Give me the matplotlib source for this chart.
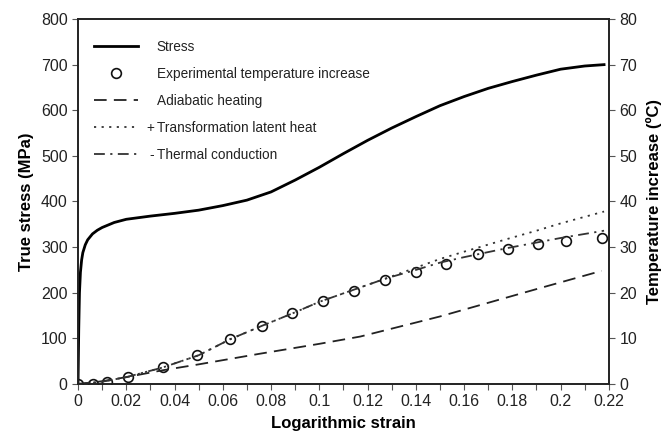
import matplotlib
matplotlib.use("Agg")
import matplotlib.pyplot as plt
from matplotlib.ticker import MultipleLocator, FuncFormatter
import numpy as np

plt.rcParams['font.family'] = ['Liberation Sans', 'DejaVu Sans']

# Stress curve (left axis, MPa)
stress_strain = [0, 0.0003, 0.0006, 0.001, 0.0015, 0.002, 0.003, 0.004, 0.006, 0.008, 0.01, 0.015, 0.02,
                 0.03, 0.04, 0.05, 0.06, 0.07, 0.08, 0.09, 0.1, 0.11, 0.12, 0.13, 0.14, 0.15,
                 0.16, 0.17, 0.18, 0.19, 0.2, 0.21, 0.218]
stress = [0, 120, 200, 245, 272, 288, 305, 316, 329, 337, 343, 354, 361,
          368, 374, 381, 391, 403, 421, 447, 475, 505, 534, 561, 586, 610,
          630, 648, 663, 677, 690, 697, 700]

# Experimental temperature increase (right axis, degC)
exp_strain = [0, 0.0063, 0.0119, 0.0206, 0.0351, 0.0492, 0.0631, 0.0761, 0.0888, 0.1016,
              0.1145, 0.1272, 0.140, 0.1526, 0.1656, 0.178, 0.1905, 0.2022, 0.217]
exp_temp = [0.1, 0.1, 0.5, 1.5, 3.7, 6.3, 9.9, 12.7, 15.5, 18.2,
            20.4, 22.8, 24.6, 26.2, 28.4, 29.6, 30.6, 31.4, 31.9]

# Adiabatic heating
adi_strain = [0, 0.01, 0.02, 0.035, 0.05, 0.075, 0.1, 0.117, 0.15, 0.19, 0.217]
adi_temp = [0, 0.6, 1.5, 3.0, 4.3, 6.6, 8.8, 10.4, 14.8, 20.8, 24.8]

# + Transformation latent heat
lat_strain = [0, 0.01, 0.02, 0.035, 0.05, 0.063, 0.076, 0.089, 0.1, 0.115, 0.128,
              0.14, 0.15, 0.16, 0.178, 0.19, 0.2, 0.218]
lat_temp = [0, 0.5, 1.5, 3.6, 6.3, 9.8, 12.7, 15.5, 18.0, 20.8, 23.2,
            25.5, 27.4, 29.0, 31.8, 33.6, 35.2, 37.8]

# - Thermal conduction
cond_strain = [0, 0.01, 0.02, 0.035, 0.05, 0.063, 0.076, 0.089, 0.1, 0.115, 0.128,
               0.14, 0.15, 0.16, 0.178, 0.19, 0.2, 0.218]
cond_temp = [0, 0.5, 1.5, 3.6, 6.3, 9.8, 12.7, 15.5, 18.0, 20.8, 23.2,
             25.0, 26.6, 27.8, 29.8, 31.0, 32.0, 33.6]

fig = plt.figure(figsize=(6.64, 4.36), dpi=100)
ax = fig.add_axes([0.1175, 0.1193, 0.7995, 0.8371])
ax2 = ax.twinx()

tick_col = '#222222'
l1, = ax.plot(stress_strain, stress, color='black', lw=2.0, label='Stress')
l2, = ax2.plot(exp_strain, exp_temp, linestyle='none', marker='o', markersize=7,
               markerfacecolor='none', markeredgecolor='#111111', markeredgewidth=1.2,
               label='Experimental temperature increase')
l3, = ax2.plot(adi_strain, adi_temp, color='#222222', lw=1.3, dashes=(7, 4), label='Adiabatic heating')
l4, = ax2.plot(lat_strain, lat_temp, color='#333333', lw=1.3, dashes=(1.2, 3), label='Transformation latent heat')
l5, = ax2.plot(cond_strain, cond_temp, color='#333333', lw=1.3, dashes=(6, 3, 1.2, 3), label='Thermal conduction')

ax.set_xlim(0, 0.22)
ax.set_ylim(0, 800)
ax2.set_ylim(0, 80)
ax.xaxis.set_major_locator(MultipleLocator(0.02))
ax.xaxis.set_minor_locator(MultipleLocator(0.01))
ax.yaxis.set_major_locator(MultipleLocator(100))
ax2.yaxis.set_major_locator(MultipleLocator(10))
ax.xaxis.set_major_formatter(FuncFormatter(lambda v, p: f"{round(v, 2):g}"))

for a in (ax, ax2):
    a.tick_params(which='both', direction='out', length=4, width=0.8, color='#555555',
                  labelsize=11.5, labelcolor=tick_col)
    for s in a.spines.values():
        s.set_linewidth(1.2)
        s.set_color('#222222')
ax.tick_params(axis='x', pad=3)

ax.set_xlabel('Logarithmic strain', fontsize=12, fontweight='bold', labelpad=5)
ax.set_ylabel('True stress (MPa)', fontsize=12, fontweight='bold', labelpad=5)
ax2.set_ylabel('Temperature increase (ºC)', fontsize=12, fontweight='bold', labelpad=6)

leg = ax.legend(handles=[l1, l2, l3, l4, l5], loc='upper left', frameon=False,
                fontsize=9.8, handlelength=3.2, handletextpad=1.4, labelspacing=0.95,
                borderaxespad=0.6, bbox_to_anchor=(0.005, 0.98))
texts = leg.get_texts()
for t in texts:
    t.set_color('#222222')
fig.canvas.draw()
for t, prefix in ((texts[3], '+'), (texts[4], '-')):
    bb = t.get_window_extent()
    fig.text(bb.x0 - 3, (bb.y0 + bb.y1) / 2, prefix, transform=None, ha='right', va='center',
             fontsize=9.8, color='#222222')

fig.savefig('out.png', dpi=100)
